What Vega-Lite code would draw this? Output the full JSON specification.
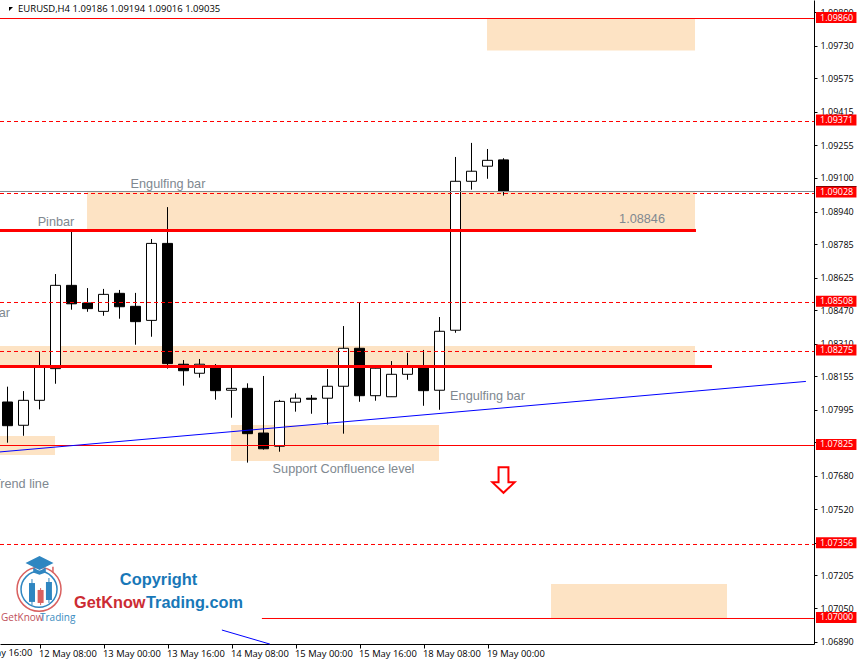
{
  "$schema": "https://vega.github.io/schema/vega-lite/v6.json",
  "width": 814,
  "height": 644,
  "autosize": {"type": "none"},
  "padding": {"left": 0, "top": 0, "right": 45, "bottom": 16},
  "background": "white",
  "view": {"stroke": null},
  "config": {"text": {"font": "Liberation Sans"}},
  "datasets": {
    "candles": [
      {"x": 0, "o": 1.08032, "h": 1.08105, "l": 1.07838, "c": 1.07919, "dir": "down"},
      {"x": 1, "o": 1.07921, "h": 1.08084, "l": 1.07871, "c": 1.0804, "dir": "up"},
      {"x": 2, "o": 1.0804, "h": 1.08272, "l": 1.07997, "c": 1.08202, "dir": "up"},
      {"x": 3, "o": 1.08191, "h": 1.08642, "l": 1.08119, "c": 1.08588, "dir": "up"},
      {"x": 4, "o": 1.08588, "h": 1.08847, "l": 1.08472, "c": 1.085, "dir": "down"},
      {"x": 5, "o": 1.08504, "h": 1.08575, "l": 1.08462, "c": 1.08477, "dir": "down"},
      {"x": 6, "o": 1.08464, "h": 1.08571, "l": 1.08443, "c": 1.08545, "dir": "up"},
      {"x": 7, "o": 1.0855, "h": 1.08566, "l": 1.08429, "c": 1.08486, "dir": "down"},
      {"x": 8, "o": 1.08488, "h": 1.08552, "l": 1.08305, "c": 1.08415, "dir": "down"},
      {"x": 9, "o": 1.08421, "h": 1.08809, "l": 1.08343, "c": 1.08788, "dir": "up"},
      {"x": 10, "o": 1.08788, "h": 1.08961, "l": 1.08191, "c": 1.08215, "dir": "down"},
      {"x": 11, "o": 1.08212, "h": 1.08232, "l": 1.0811, "c": 1.08181, "dir": "down"},
      {"x": 12, "o": 1.08169, "h": 1.08237, "l": 1.08148, "c": 1.08212, "dir": "up"},
      {"x": 13, "o": 1.08197, "h": 1.08213, "l": 1.08043, "c": 1.08086, "dir": "down"},
      {"x": 14, "o": 1.08088, "h": 1.08199, "l": 1.07957, "c": 1.08097, "dir": "up"},
      {"x": 15, "o": 1.08097, "h": 1.08121, "l": 1.07743, "c": 1.07881, "dir": "down"},
      {"x": 16, "o": 1.07884, "h": 1.08156, "l": 1.07805, "c": 1.07809, "dir": "down"},
      {"x": 17, "o": 1.07821, "h": 1.08042, "l": 1.07795, "c": 1.08035, "dir": "up"},
      {"x": 18, "o": 1.08031, "h": 1.08073, "l": 1.07986, "c": 1.0805, "dir": "up"},
      {"x": 19, "o": 1.0805, "h": 1.08065, "l": 1.07976, "c": 1.08045, "dir": "down"},
      {"x": 20, "o": 1.0805, "h": 1.08189, "l": 1.07924, "c": 1.08107, "dir": "up"},
      {"x": 21, "o": 1.08107, "h": 1.08394, "l": 1.07881, "c": 1.08288, "dir": "up"},
      {"x": 22, "o": 1.08288, "h": 1.08504, "l": 1.08033, "c": 1.08062, "dir": "down"},
      {"x": 23, "o": 1.08062, "h": 1.08199, "l": 1.08038, "c": 1.08193, "dir": "up"},
      {"x": 24, "o": 1.08057, "h": 1.08227, "l": 1.08057, "c": 1.08164, "dir": "up"},
      {"x": 25, "o": 1.08164, "h": 1.08266, "l": 1.08138, "c": 1.08197, "dir": "up"},
      {"x": 26, "o": 1.08197, "h": 1.0828, "l": 1.08014, "c": 1.08086, "dir": "down"},
      {"x": 27, "o": 1.08088, "h": 1.08437, "l": 1.07995, "c": 1.08369, "dir": "up"},
      {"x": 28, "o": 1.08374, "h": 1.092, "l": 1.08362, "c": 1.09084, "dir": "up"},
      {"x": 29, "o": 1.09084, "h": 1.09267, "l": 1.09044, "c": 1.09132, "dir": "up"},
      {"x": 30, "o": 1.09156, "h": 1.09238, "l": 1.09096, "c": 1.09184, "dir": "up"},
      {"x": 31, "o": 1.09186, "h": 1.09194, "l": 1.09016, "c": 1.09035, "dir": "down"}
    ],
    "zones": [
      {"x": 29.97, "x2": 42.97, "y": 1.0986, "y2": 1.09707},
      {"x": 4.97, "x2": 42.97, "y": 1.09033, "y2": 1.08846},
      {"x": -0.46875, "x2": 42.97, "y": 1.08299, "y2": 1.08199},
      {"x": -0.46875, "x2": 2.97, "y": 1.0787, "y2": 1.07779},
      {"x": 13.97, "x2": 26.97, "y": 1.07922, "y2": 1.07751},
      {"x": 33.97, "x2": 44.97, "y": 1.07164, "y2": 1.07}
    ],
    "tags": [
      {"x": 50.53, "x2": 53.06, "y": 1.0986, "t": "1.09860"},
      {"x": 50.53, "x2": 53.06, "y": 1.09371, "t": "1.09371"},
      {"x": 50.53, "x2": 53.06, "y": 1.09028, "t": "1.09028"},
      {"x": 50.53, "x2": 53.06, "y": 1.08508, "t": "1.08508"},
      {"x": 50.53, "x2": 53.06, "y": 1.08275, "t": "1.08275"},
      {"x": 50.53, "x2": 53.06, "y": 1.07825, "t": "1.07825"},
      {"x": 50.53, "x2": 53.06, "y": 1.07356, "t": "1.07356"},
      {"x": 50.53, "x2": 53.06, "y": 1.07, "t": "1.07000"}
    ]
  },
  "encoding": {
    "x": {
      "field": "x",
      "type": "quantitative",
      "title": null,
      "scale": {"domain": [-0.46875, 50.40625], "nice": false, "zero": false, "padding": 0},
      "axis": {
        "values": [2, 6, 10, 14, 18, 22, 26, 30],
        "labelExpr": "{'2':'12 May 08:00','6':'13 May 00:00','10':'13 May 16:00','14':'14 May 08:00','18':'15 May 00:00','22':'15 May 16:00','26':'18 May 08:00','30':'19 May 00:00'}[datum.value]",
        "grid": false,
        "domainColor": "black",
        "tickColor": "black",
        "tickSize": 4,
        "labelAlign": "left",
        "labelBaseline": "middle",
        "labelPadding": 5,
        "labelOffset": -1,
        "labelOverlap": false,
        "labelBound": false,
        "labelFlush": false,
        "labelFont": "Open Sans",
        "labelFontSize": 9.4,
        "labelColor": "black"
      }
    },
    "y": {
      "field": "y",
      "type": "quantitative",
      "title": null,
      "scale": {"domain": [1.068784, 1.099482], "nice": false, "zero": false},
      "axis": {
        "orient": "right",
        "values": [1.0989, 1.0973, 1.09575, 1.09415, 1.09255, 1.091, 1.0894, 1.08785, 1.08625, 1.0847, 1.0831, 1.08155, 1.07995, 1.0784, 1.0768, 1.0752, 1.0736, 1.07205, 1.0705, 1.0689],
        "format": ".5f",
        "grid": false,
        "domainColor": "black",
        "tickColor": "black",
        "tickSize": 3,
        "labelPadding": 3,
        "labelOverlap": false,
        "labelBound": false,
        "labelFlush": false,
        "labelFont": "Open Sans",
        "labelFontSize": 9,
        "labelColor": "black"
      }
    }
  },
  "layer": [
    {
      "data": {"name": "zones"},
      "mark": {"type": "rect", "color": "#fde3c4"},
      "encoding": {"x2": {"field": "x2"}, "y2": {"field": "y2"}}
    },
    {
      "data": {"name": "candles"},
      "mark": {"type": "rule", "color": "black", "strokeWidth": 1},
      "encoding": {
        "y": {"field": "l", "type": "quantitative", "scale": {"domain": [1.068784, 1.099482], "nice": false, "zero": false}},
        "y2": {"field": "h"}
      }
    },
    {
      "data": {"name": "candles"},
      "mark": {"type": "bar", "size": 10, "stroke": "black", "strokeWidth": 1},
      "encoding": {
        "y": {"field": "o", "type": "quantitative", "scale": {"domain": [1.068784, 1.099482], "nice": false, "zero": false}},
        "y2": {"field": "c"},
        "fill": {"field": "dir", "type": "nominal", "scale": {"domain": ["up", "down"], "range": ["white", "black"]}, "legend": null}
      }
    },
    {
      "data": {"values": [
        {"x": -0.46875, "x2": 50.40625, "y": 1.090354}
      ]},
      "mark": {"type": "rule", "color": "#808890", "strokeWidth": 1},
      "encoding": {"x2": {"field": "x2"}}
    },
    {
      "data": {"values": [
        {"x": -0.46875, "x2": 50.40625, "y": 1.0986},
        {"x": -0.46875, "x2": 50.40625, "y": 1.078246},
        {"x": 15.9, "x2": 50.40625, "y": 1.07}
      ]},
      "mark": {"type": "rule", "color": "#ff0000", "strokeWidth": 1},
      "encoding": {"x2": {"field": "x2"}}
    },
    {
      "data": {"values": [
        {"x": -0.46875, "x2": 50.40625, "y": 1.09369},
        {"x": -0.46875, "x2": 50.40625, "y": 1.090258},
        {"x": -0.46875, "x2": 50.40625, "y": 1.085063},
        {"x": -0.46875, "x2": 50.40625, "y": 1.082727},
        {"x": -0.46875, "x2": 50.40625, "y": 1.073527}
      ]},
      "mark": {"type": "rule", "color": "#ff0000", "strokeWidth": 1, "strokeDash": [4, 3]},
      "encoding": {"x2": {"field": "x2"}}
    },
    {
      "data": {"values": [
        {"x": -0.46875, "x2": 43.03, "y": 1.088495},
        {"x": -0.46875, "x2": 44.03, "y": 1.082012}
      ]},
      "mark": {"type": "rule", "color": "#ff0000", "strokeWidth": 3},
      "encoding": {"x2": {"field": "x2"}}
    },
    {
      "data": {"values": [
        {"x": -0.46875, "y": 1.07794, "line": "a"},
        {"x": 49.9, "y": 1.0813, "line": "a"},
        {"x": 13.4, "y": 1.06945, "line": "b"},
        {"x": 16.4, "y": 1.06878, "line": "b"}
      ]},
      "mark": {"type": "line", "color": "#0000ff", "strokeWidth": 1},
      "encoding": {"detail": {"field": "line"}}
    },
    {
      "data": {"values": [
        {"x": 50.53, "x2": 53.06, "y": 1.09059}
      ]},
      "mark": {"type": "rule", "color": "black", "strokeWidth": 1},
      "encoding": {"x2": {"field": "x2"}}
    },
    {
      "data": {"name": "tags"},
      "mark": {"type": "rule", "color": "#ff0000", "strokeWidth": 11, "yOffset": -1},
      "encoding": {"x2": {"field": "x2"}}
    },
    {
      "data": {"name": "tags"},
      "mark": {"type": "text", "align": "left", "baseline": "middle", "dx": 4, "dy": -1, "font": "Open Sans", "fontSize": 9, "color": "white"},
      "encoding": {"text": {"field": "t"}}
    },
    {
      "data": {"values": [
        {"x": 10.03, "y": 1.09071, "t": "Engulfing bar"},
        {"x": 3.03, "y": 1.0889, "t": "Pinbar"},
        {"x": 30, "y": 1.08061, "t": "Engulfing bar"},
        {"x": 21, "y": 1.07713, "t": "Support Confluence level"},
        {"x": 39.66, "y": 1.08904, "t": "1.08846"}
      ]},
      "mark": {"type": "text", "baseline": "middle", "fontSize": 12.7, "color": "#808890"},
      "encoding": {"text": {"field": "t"}}
    },
    {
      "data": {"values": [
        {"x": 0.16, "y": 1.08456, "t": "Engulfing bar"},
        {"x": 2.59, "y": 1.07641, "t": "Trend line"}
      ]},
      "mark": {"type": "text", "align": "right", "baseline": "middle", "fontSize": 12.7, "color": "#808890"},
      "encoding": {"text": {"field": "t"}}
    },
    {
      "data": {"values": [
        {"x": 31, "y": 1.0766}
      ]},
      "mark": {"type": "point", "shape": "M-0.38,-0.98L0.38,-0.98L0.38,0.18L0.85,0.18L0,0.98L-0.85,0.18L-0.38,0.18Z", "size": 676, "fill": "white", "stroke": "#ff0000", "strokeWidth": 2, "filled": false, "opacity": 1}
    },
    {
      "data": {"values": [
        {"x": 0.66, "y": 1.09905, "t": "EURUSD,H4  1.09186 1.09194 1.09016 1.09035"}
      ]},
      "mark": {"type": "text", "align": "left", "baseline": "middle", "font": "Open Sans", "fontSize": 9.5, "color": "black"},
      "encoding": {"text": {"field": "t"}}
    },
    {
      "data": {"values": [
        {"x": 0.22, "y": 1.09905}
      ]},
      "mark": {"type": "point", "shape": "M-1,-1L1,-1L-1,1Z", "size": 16, "filled": true, "color": "black", "opacity": 1}
    },
    {
      "data": {"values": [
        {"x": 1.97, "y": 1.07139}
      ]},
      "mark": {"type": "point", "shape": "circle", "size": 1936, "stroke": "#d9605f", "strokeWidth": 1.5, "filled": false, "opacity": 1}
    },
    {
      "data": {"values": [
        {"x": 1.97, "y": 1.07139}
      ]},
      "mark": {"type": "point", "shape": "circle", "size": 1296, "stroke": "#2f86c1", "strokeWidth": 1.5, "filled": false, "opacity": 1}
    },
    {
      "data": {"values": [
        {"x": 1.53, "y": 1.07188, "y2": 1.07064},
        {"x": 2.59, "y": 1.07193, "y2": 1.07074}
      ]},
      "mark": {"type": "rule", "color": "#2f86c1", "strokeWidth": 1},
      "encoding": {"y2": {"field": "y2"}}
    },
    {
      "data": {"values": [
        {"x": 1.53, "y": 1.07169, "y2": 1.07079},
        {"x": 2.59, "y": 1.07174, "y2": 1.07088}
      ]},
      "mark": {"type": "bar", "size": 6, "color": "#2f86c1"},
      "encoding": {"y2": {"field": "y2"}}
    },
    {
      "data": {"values": [
        {"x": 2.07, "y": 1.07145, "y2": 1.07064}
      ]},
      "mark": {"type": "rule", "color": "#d9605f", "strokeWidth": 1},
      "encoding": {"y2": {"field": "y2"}}
    },
    {
      "data": {"values": [
        {"x": 2.07, "y": 1.07136, "y2": 1.07074}
      ]},
      "mark": {"type": "bar", "size": 6, "color": "#d9605f"},
      "encoding": {"y2": {"field": "y2"}}
    },
    {
      "data": {"values": [
        {"x": 2.0, "y": 1.07265}
      ]},
      "mark": {"type": "point", "shape": "M-1,0L0,-0.5L1,0L0,0.5ZM-0.45,0.32L-0.45,0.68L0,0.85L0.45,0.68L0.45,0.32L0,0.58Z", "size": 784, "filled": true, "color": "#2f86c1", "opacity": 1}
    },
    {
      "data": {"values": [
        {"x": 2.84, "y": 1.07247, "y2": 1.0722}
      ]},
      "mark": {"type": "rule", "color": "#d9605f", "strokeWidth": 1.5},
      "encoding": {"y2": {"field": "y2"}}
    },
    {
      "data": {"values": [
        {"x": -0.4, "y": 1.07, "t": "GetKnow"}
      ]},
      "mark": {"type": "text", "align": "left", "baseline": "middle", "font": "Open Sans", "fontSize": 10, "color": "#c0505a"},
      "encoding": {"text": {"field": "t"}}
    },
    {
      "data": {"values": [
        {"x": 2.03, "y": 1.07, "t": "Trading"}
      ]},
      "mark": {"type": "text", "align": "left", "baseline": "middle", "font": "Open Sans", "fontSize": 10, "color": "#3a8bc0"},
      "encoding": {"text": {"field": "t"}}
    },
    {
      "data": {"values": [
        {"x": 9.44, "y": 1.07183, "t": "Copyright"}
      ]},
      "mark": {"type": "text", "baseline": "middle", "font": "Liberation Sans", "fontWeight": "bold", "fontSize": 16.4, "color": "#1878b8"},
      "encoding": {"text": {"field": "t"}}
    },
    {
      "data": {"values": [
        {"x": 4.16, "y": 1.07074, "t": "GetKnow"}
      ]},
      "mark": {"type": "text", "align": "left", "baseline": "middle", "font": "Liberation Sans", "fontWeight": "bold", "fontSize": 16.3, "color": "#cc2b33"},
      "encoding": {"text": {"field": "t"}}
    },
    {
      "data": {"values": [
        {"x": 8.66, "y": 1.07074, "t": "Trading.com"}
      ]},
      "mark": {"type": "text", "align": "left", "baseline": "middle", "font": "Liberation Sans", "fontWeight": "bold", "fontSize": 16.3, "color": "#1878b8"},
      "encoding": {"text": {"field": "t"}}
    },
    {
      "data": {"values": [
        {"x": -2, "y": 1.068355, "t": "11 May 16:00"}
      ]},
      "mark": {"type": "text", "align": "left", "baseline": "middle", "font": "Open Sans", "fontSize": 9.4, "color": "black", "dx": -1},
      "encoding": {"text": {"field": "t"}}
    }
  ]
}
